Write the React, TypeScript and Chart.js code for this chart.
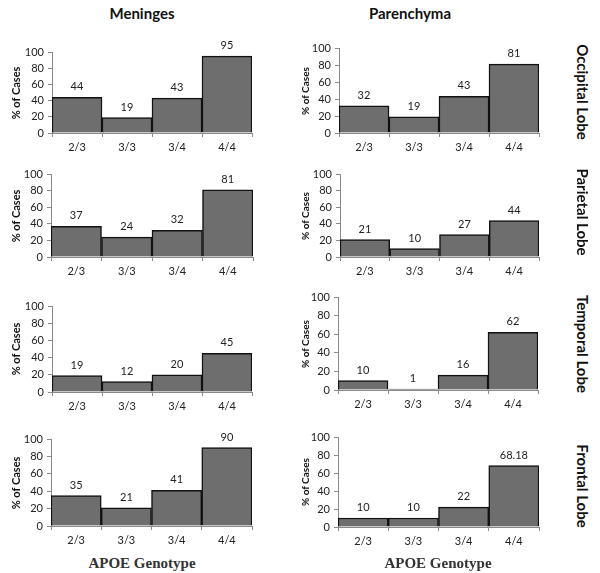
import React, { useEffect, useRef } from "react";
import { Chart, registerables } from "chart.js";
Chart.register(...registerables);

const genotypes = ["2/3", "3/3", "3/4", "4/4"];
const yTicks = [0, 20, 40, 60, 80, 100];
const meningesOccipital = [44, 19, 43, 95];
const parenchymaOccipital = [32, 19, 43, 81];
const meningesParietal = [37, 24, 32, 81];
const parenchymaParietal = [21, 10, 27, 44];
const meningesTemporal = [19, 12, 20, 45];
const parenchymaTemporal = [10, 1, 16, 62];
const meningesFrontal = [35, 21, 41, 90];
const parenchymaFrontal = [10, 10, 22, 68.18];
const columnTitles = ["Meninges", "Parenchyma"];
const rowTitles = ["Occipital Lobe", "Parietal Lobe", "Temporal Lobe", "Frontal Lobe"];
const yAxisTitle = "% of Cases";
const xAxisTitle = "APOE Genotype";

// plot rectangles: [left, top, right, bottom]
const panels = [
  { values: meningesOccipital, plot: [52, 52, 252, 133] },
  { values: parenchymaOccipital, plot: [339, 48, 539, 133] },
  { values: meningesParietal, plot: [51, 174, 253, 257] },
  { values: parenchymaParietal, plot: [340, 174, 539, 257] },
  { values: meningesTemporal, plot: [52, 306, 252, 392] },
  { values: parenchymaTemporal, plot: [338, 297, 538, 390] },
  { values: meningesFrontal, plot: [51, 439, 252, 526] },
  { values: parenchymaFrontal, plot: [338, 437, 539, 527] },
];

const PAD_L = 34;
const PAD_T = 22;
const PAD_R = 4;
const PAD_B = 24;
const FONT = "Lato, 'Open Sans', sans-serif";

const valueLabels = {
  id: "valueLabels",
  afterDatasetsDraw(chart: any) {
    const ctx = chart.ctx;
    const meta = chart.getDatasetMeta(0);
    const data = chart.data.datasets[0].data;
    ctx.save();
    ctx.fillStyle = "#222";
    ctx.font = "11px " + FONT;
    ctx.textAlign = "center";
    ctx.textBaseline = "bottom";
    meta.data.forEach((bar: any, i: number) => {
      ctx.fillText(String(data[i]), bar.x, bar.y - 5);
    });
    ctx.restore();
  },
};

function Panel({ values, plot }: { values: number[]; plot: number[] }) {
  const ref = useRef<HTMLCanvasElement>(null);
  const [l, t, r, b] = plot;
  const w = PAD_L + (r - l) + PAD_R;
  const h = PAD_T + (b - t) + PAD_B;
  useEffect(() => {
    const chart = new Chart(ref.current as HTMLCanvasElement, {
      type: "bar",
      data: {
        labels: genotypes,
        datasets: [
          {
            data: values,
            backgroundColor: "#6e6e6e",
            borderColor: "#111",
            borderWidth: 1.5,
            barPercentage: 1,
            categoryPercentage: 1,
          },
        ],
      },
      options: {
        animation: false,
        responsive: false,
        devicePixelRatio: 1,
        layout: { padding: { top: PAD_T, right: PAD_R, left: 0, bottom: 0 } },
        plugins: { legend: { display: false }, tooltip: { enabled: false } },
        scales: {
          x: {
            afterFit: (s: any) => {
              s.height = PAD_B;
            },
            grid: { drawOnChartArea: false, tickLength: 4, color: "#8a8a8a" },
            border: { color: "#8a8a8a", width: 1 },
            ticks: { color: "#222", font: { family: FONT, size: 11 }, padding: 4 },
          },
          y: {
            min: 0,
            max: 100,
            afterBuildTicks: (s: any) => {
              s.ticks = yTicks.map((v) => ({ value: v }));
            },
            afterFit: (s: any) => {
              s.width = PAD_L;
            },
            grid: { drawOnChartArea: false, tickLength: 4, color: "#8a8a8a" },
            border: { color: "#8a8a8a", width: 1 },
            ticks: { color: "#222", font: { family: FONT, size: 11 }, padding: 4 },
          },
        },
      },
      plugins: [valueLabels],
    });
    return () => chart.destroy();
  }, []);
  return (
    <canvas
      ref={ref}
      width={w}
      height={h}
      style={{ position: "absolute", left: l - PAD_L, top: t - PAD_T, width: w, height: h }}
    />
  );
}

const abs = (x: number, y: number): React.CSSProperties => ({
  position: "absolute",
  left: x,
  top: y,
  transform: "translate(-50%, -50%)",
  whiteSpace: "nowrap",
});

export default function App() {
  const colX = [142, 438];
  const rowY = [92, 212, 344, 486];
  const yTitleX = [15, 305];
  return (
    <div style={{ position: "absolute", left: 0, top: 0, width: 600, height: 573, background: "#fff", overflow: "hidden" }}>
      {panels.map((p, i) => (
        <Panel key={i} values={p.values} plot={p.plot} />
      ))}
      {columnTitles.map((t, i) => (
        <div key={t} style={{ ...abs(i === 0 ? 142 : 410, 13), fontFamily: FONT, fontWeight: 700, fontSize: 15, color: "#111" }}>
          {t}
        </div>
      ))}
      {rowTitles.map((t, i) => (
        <div
          key={t}
          style={{
            ...abs(583, rowY[i]),
            transform: "translate(-50%, -50%) rotate(90deg)",
            fontFamily: FONT,
            fontWeight: 700,
            fontSize: 15,
            color: "#111",
          }}
        >
          {t}
        </div>
      ))}
      {panels.map((p, i) => (
        <div
          key={"yt" + i}
          style={{
            ...abs(yTitleX[i % 2], (p.plot[1] + p.plot[3]) / 2),
            transform: "translate(-50%, -50%) rotate(-90deg)",
            fontFamily: FONT,
            fontWeight: 700,
            fontSize: i % 2 === 0 ? 11 : 10,
            color: "#111",
          }}
        >
          {yAxisTitle}
        </div>
      ))}
      {colX.map((x, i) => (
        <div key={"xt" + i} style={{ ...abs(x, 563), fontFamily: "'Liberation Serif', serif", fontWeight: 700, fontSize: 15, color: "#333" }}>
          {xAxisTitle}
        </div>
      ))}
    </div>
  );
}
